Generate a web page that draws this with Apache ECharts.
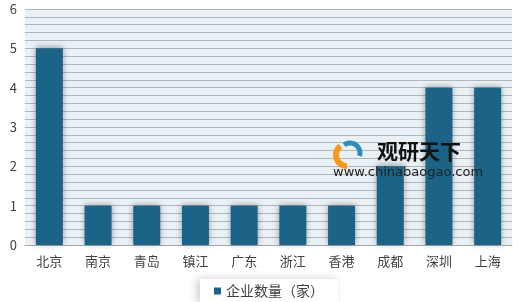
<!DOCTYPE html>
<html><head><meta charset="utf-8">
<script src="https://cdn.jsdelivr.net/npm/echarts@6/dist/echarts.min.js"></script>
<style>html,body{margin:0;padding:0;background:#fff}#c{width:520px;height:302px}</style>
</head><body><div id="c"></div>
<script>
const categories = ['北京','南京','青岛','镇江','广东','浙江','香港','成都','深圳','上海'];
const values = [5,1,1,1,1,1,1,2,4,4];
const seriesName = '企业数量（家）';
const yTicks = [0,1,2,3,4,5,6];
const FONT = '"Noto Sans CJK SC", "Noto Sans", sans-serif';
const chart = echarts.init(document.getElementById('c'));
chart.setOption({
  animation:false,
  textStyle:{fontFamily:FONT},
  grid:{left:25,right:8,top:9,bottom:57,show:true,backgroundColor:'#e9f0f6',borderWidth:0},
  legend:{left:200,top:279,padding:[5,14,5,14],itemWidth:7,itemHeight:7,itemGap:4,
    icon:'rect',backgroundColor:'#fff',shadowBlur:8,shadowColor:'rgba(0,0,0,0.2)',shadowOffsetX:-3,
    textStyle:{fontSize:14,color:'#404040',fontFamily:FONT},data:[seriesName]},
  xAxis:{type:'category',data:categories,
    axisLine:{lineStyle:{color:'#a6a6a6'}},axisTick:{show:false},
    axisLabel:{fontSize:13,color:'#404040',margin:10,fontFamily:FONT}},
  yAxis:{type:'value',min:yTicks[0],max:yTicks[yTicks.length-1],interval:1,
    axisLine:{show:false},axisTick:{show:false},
    axisLabel:{fontSize:13,color:'#404040',margin:8,fontFamily:FONT},
    splitLine:{lineStyle:{color:'#b3b6b9'}},
    minorTick:{show:false,splitNumber:5},
    minorSplitLine:{show:true,lineStyle:{color:'#b3b6b9'}}},
  graphic:[
    {type:'arc',shape:{cx:347,cy:155,r:11,startAngle:Math.PI*0.5,endAngle:Math.PI*1.3},style:{stroke:'#f39a1e',lineWidth:6,fill:null},z:100},
    {type:'arc',shape:{cx:350,cy:153,r:10,startAngle:Math.PI*1.3,endAngle:Math.PI*2.1},style:{stroke:'#2a8fc0',lineWidth:5,fill:null},z:100},
    {type:'text',left:377,top:141,style:{text:'观研天下',fontSize:21,fontWeight:'bold',fill:'#111',fontFamily:FONT},z:100},
    {type:'text',left:333,top:166,style:{text:'www.chinabaogao.com',fontSize:13,fill:'#222',fontFamily:'"DejaVu Sans", sans-serif'},z:100}
  ],
  series:[{name:seriesName,type:'bar',data:values,barWidth:27,
    itemStyle:{color:'#1b6487',shadowBlur:6,shadowColor:'rgba(0,0,0,0.35)',shadowOffsetX:0,shadowOffsetY:-1}}]
});
</script></body></html>
